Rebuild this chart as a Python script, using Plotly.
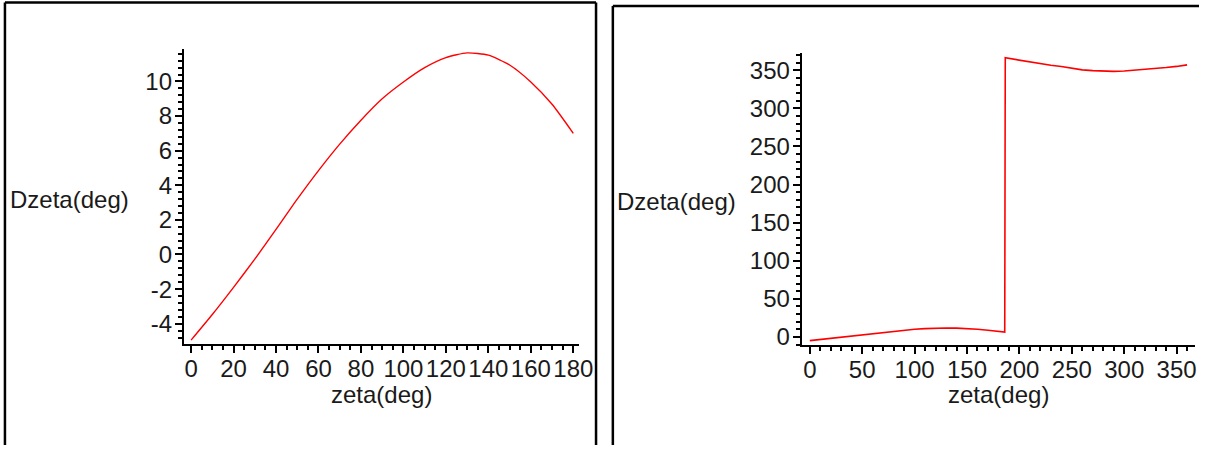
import plotly.graph_objects as go

# ---- data ----
zeta_left = [0, 10, 20, 30, 40, 50, 60, 70, 80, 90, 100, 110, 120, 130, 140, 150, 160, 170, 180]
dzeta_left = [-4.95, -3.47, -1.9, -0.27, 1.45, 3.2, 4.85, 6.38, 7.76, 9.0, 9.97, 10.8, 11.38, 11.65, 11.52, 10.95, 9.97, 8.68, 7.0]

zeta_right = [0, 10, 20, 30, 40, 50, 60, 70, 80, 90, 100, 110, 120, 130, 140, 150, 160, 170, 180, 186,
              186.5, 190, 200, 210, 220, 230, 240, 250, 260, 270, 280, 290, 300, 310, 320, 330, 340, 350, 360]
dzeta_right = [-4.95, -3.47, -1.9, -0.27, 1.45, 3.2, 4.85, 6.38, 7.76, 9.0, 9.97, 10.8, 11.38, 11.65, 11.52, 10.95, 9.97, 8.68, 7.0, 6.2,
               366.3, 365.5, 363.0, 360.5, 358.5, 356.5, 354.8, 352.5, 350.5, 349.5, 349.0, 348.5, 349.0, 350.0, 350.8, 352.0, 353.5, 355.0, 357.0]

left_xticks = [0, 20, 40, 60, 80, 100, 120, 140, 160, 180]
left_xticktext = ["0", "20", "40", "60", "80", "100", "120", "140", "160", "180"]
left_yticks = [-4, -2, 0, 2, 4, 6, 8, 10]
left_yticktext = ["-4", "-2", "0", "2", "4", "6", "8", "10"]

right_xticks = [0, 50, 100, 150, 200, 250, 300, 350]
right_xticktext = ["0", "50", "100", "150", "200", "250", "300", "350"]
right_yticks = [0, 50, 100, 150, 200, 250, 300, 350]
right_yticktext = ["0", "50", "100", "150", "200", "250", "300", "350"]

x_title = "zeta(deg)"
y_title = "Dzeta(deg)"

# ---- layout geometry ----
W, H = 1213, 450
FONT = "Liberation Sans, Arial, sans-serif"
FS = 24
TXT = "#1a1a1a"

def px(x):
    return x / W

def py(y):
    return 1 - y / H

fig = go.Figure()
fig.add_trace(go.Scatter(x=zeta_left, y=dzeta_left, mode="lines", line=dict(color="#ff0000", width=1.4, shape="spline", smoothing=0.6),
                         xaxis="x", yaxis="y", showlegend=False, hoverinfo="skip"))
fig.add_trace(go.Scatter(x=zeta_right, y=dzeta_right, mode="lines", line=dict(color="#ff0000", width=1.6),
                         xaxis="x2", yaxis="y2", showlegend=False, hoverinfo="skip"))

def axis_common():
    return dict(showline=True, linecolor="black", linewidth=2, showgrid=False, zeroline=False,
                ticks="outside", ticklen=7, tickwidth=2, tickcolor="black",
                tickfont=dict(family=FONT, size=FS, color=TXT), tickmode="array", fixedrange=True)

def minor(dt):
    return dict(tickmode="linear", tick0=0, dtick=dt, ticks="outside", ticklen=4, tickwidth=2, tickcolor="black")

xa = axis_common(); xa.update(domain=[px(186), px(586)], range=[-3.4, 182.8], tickvals=left_xticks, ticktext=left_xticktext,
                              anchor="y", minor=minor(5), ticklabelstandoff=-5)
ya = axis_common(); ya.update(domain=[py(348), py(50)], range=[-5.18, 11.85], tickvals=left_yticks, ticktext=left_yticktext,
                              anchor="x", minor=minor(0.4), ticklabelstandoff=-2)
xa2 = axis_common(); xa2.update(domain=[px(811), px(1209)], range=[-7.8, 367.6], tickvals=right_xticks, ticktext=right_xticktext,
                                anchor="y2", minor=minor(10), ticklabelstandoff=-5)
ya2 = axis_common(); ya2.update(domain=[py(349.3), py(53.3)], range=[-11.2, 373], tickvals=right_yticks, ticktext=right_yticktext,
                                anchor="x2", minor=minor(10), ticklabelstandoff=-2)

annotations = [
    dict(text=y_title, x=px(70), y=py(202), xref="paper", yref="paper", showarrow=False,
         font=dict(family=FONT, size=FS, color=TXT), xanchor="center", yanchor="middle"),
    dict(text=x_title, x=px(386), y=py(399), xref="paper", yref="paper", showarrow=False,
         font=dict(family=FONT, size=FS, color=TXT), xanchor="center", yanchor="middle"),
    dict(text=y_title, x=px(684), y=py(204), xref="paper", yref="paper", showarrow=False,
         font=dict(family=FONT, size=FS, color=TXT), xanchor="center", yanchor="middle"),
    dict(text=x_title, x=px(1010), y=py(399), xref="paper", yref="paper", showarrow=False,
         font=dict(family=FONT, size=FS, color=TXT), xanchor="center", yanchor="middle"),
]

border = dict(color="black", width=2.5)
shapes = [
    dict(type="line", xref="paper", yref="paper", x0=px(5), x1=px(603), y0=py(2.5), y1=py(2.5), line=border),
    dict(type="line", xref="paper", yref="paper", x0=px(5), x1=px(5), y0=py(2.5), y1=0, line=border),
    dict(type="line", xref="paper", yref="paper", x0=px(603), x1=px(603), y0=py(2.5), y1=0, line=border),
    dict(type="line", xref="paper", yref="paper", x0=px(620), x1=1, y0=py(6), y1=py(6), line=border),
    dict(type="line", xref="paper", yref="paper", x0=px(620), x1=px(620), y0=py(6), y1=0, line=border),
]

fig.update_layout(width=W, height=H, margin=dict(l=0, r=0, t=0, b=0), paper_bgcolor="white", plot_bgcolor="white",
                  xaxis=xa, yaxis=ya, xaxis2=xa2, yaxis2=ya2, annotations=annotations, shapes=shapes, showlegend=False)

fig.write_html("out.html", config=dict(displayModeBar=False))
